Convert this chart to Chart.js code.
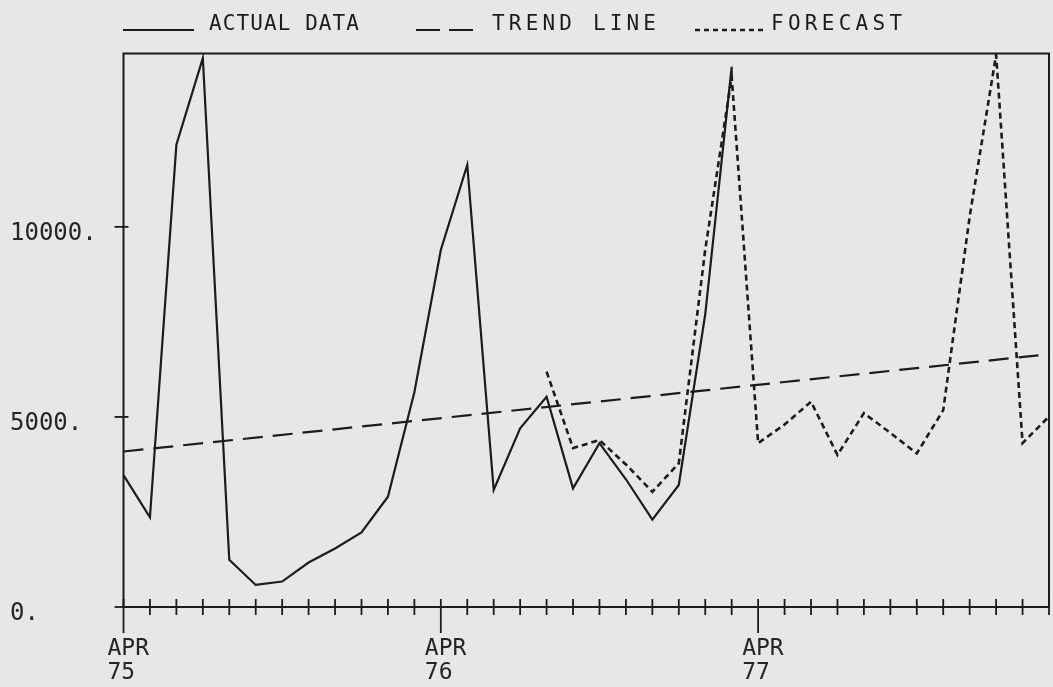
<!DOCTYPE html>
<html><head><meta charset="utf-8">
<script src="https://cdn.jsdelivr.net/npm/chart.js@4.4.1/dist/chart.umd.min.js"></script>
<style>
html,body{margin:0;padding:0;background:#e7e7e5;}
#wrap{position:relative;width:1053px;height:687px;overflow:hidden;}
canvas{display:block;}
</style></head><body>
<div id="wrap"><canvas id="c" width="1053" height="687"></canvas></div>
<script>
// ---- data ----
const monthLabels = [
  'APR 75','MAY 75','JUN 75','JUL 75','AUG 75','SEP 75','OCT 75','NOV 75','DEC 75','JAN 76','FEB 76','MAR 76',
  'APR 76','MAY 76','JUN 76','JUL 76','AUG 76','SEP 76','OCT 76','NOV 76','DEC 76','JAN 77','FEB 77','MAR 77',
  'APR 77','MAY 77','JUN 77','JUL 77','AUG 77','SEP 77','OCT 77','NOV 77','DEC 77','JAN 78','FEB 78','MAR 78'
];
const actualData = [3470, 2360, 12160, 14440, 1240, 580, 670, 1170, 1540, 1960, 2900, 5650,
                    9390, 11630, 3080, 4700, 5530, 3120, 4310, 3360, 2300, 3210, 7700, 14210];
const forecastStart = 'AUG 76';
const forecastValues = [6190, 4180, 4390, 3750, 3030, 3780, 9400, 13950, 4310, 4800,
                        5400, 4000, 5100, 4580, 4040, 5180, 10270, 14530, 4310, 5010];
const trendStartValue = 4090;
const trendEndValue = 6650;
const yTickValues = [0, 5000, 10000];
const yMax = 14560;
const legendItems = ['ACTUAL DATA', 'TREND LINE', 'FORECAST'];

// ---- build library structures ----
const fIdx = monthLabels.indexOf(forecastStart);
const forecastData = monthLabels.map((m, i) => (i >= fIdx ? forecastValues[i - fIdx] : null));
const trendData = [
  {x: monthLabels[0], y: trendStartValue},
  {x: monthLabels[monthLabels.length - 1], y: trendEndValue}
];

const INK = '#1c1c1c';
const FONT = "'DejaVu Sans Mono', monospace";

function fitText(ctx, text, x0, x1, y) {
  if ('letterSpacing' in ctx) {
    ctx.letterSpacing = '0px';
    const w = ctx.measureText(text).width;
    const sp = (x1 - x0 - w) / Math.max(text.length - 1, 1);
    ctx.letterSpacing = sp.toFixed(2) + 'px';
  }
  ctx.fillText(text, x0, y);
  if ('letterSpacing' in ctx) ctx.letterSpacing = '0px';
}

const paperPlugin = {
  id: 'paper',
  beforeDraw(chart) {
    const ctx = chart.ctx;
    ctx.save();
    ctx.fillStyle = '#e7e7e5';
    ctx.fillRect(0, 0, chart.width, chart.height);
    ctx.restore();
  },
  beforeDatasetsDraw(chart) {
    const {ctx, chartArea: a, scales: {x, y}} = chart;
    ctx.save();
    ctx.strokeStyle = INK;
    ctx.lineWidth = 2;
    ctx.strokeRect(a.left, a.top, a.right - a.left, a.bottom - a.top);
    ctx.lineWidth = 1.8;
    monthLabels.forEach((m, i) => {
      const px = x.getPixelForValue(i);
      const major = m.startsWith('APR');
      ctx.beginPath();
      ctx.moveTo(px, a.bottom - 8);
      ctx.lineTo(px, a.bottom + (major ? 26 : 8));
      ctx.stroke();
    });
    yTickValues.forEach(v => {
      const py = y.getPixelForValue(v);
      ctx.beginPath();
      ctx.moveTo(a.left - 9, py);
      ctx.lineTo(a.left + 5, py);
      ctx.stroke();
    });
    ctx.restore();
  },
  afterDraw(chart) {
    const ctx = chart.ctx;
    ctx.save();
    ctx.fillStyle = INK;
    ctx.strokeStyle = INK;
    ctx.font = '21px ' + FONT;
    ctx.textBaseline = 'alphabetic';
    const ly = 30;
    ctx.lineWidth = 2;
    ctx.setLineDash([]);
    ctx.beginPath(); ctx.moveTo(123, ly); ctx.lineTo(194, ly); ctx.stroke();
    fitText(ctx, legendItems[0], 209, 359, 30);
    ctx.setLineDash([24, 9]);
    ctx.beginPath(); ctx.moveTo(416, ly); ctx.lineTo(473, ly); ctx.stroke();
    fitText(ctx, legendItems[1], 492, 656, 30);
    ctx.lineWidth = 2.5;
    ctx.setLineDash([5, 4]);
    ctx.beginPath(); ctx.moveTo(695, ly); ctx.lineTo(766, ly); ctx.stroke();
    ctx.setLineDash([]);
    fitText(ctx, legendItems[2], 771, 902, 30);
    ctx.restore();
  }
};

new Chart(document.getElementById('c'), {
  type: 'line',
  data: {
    labels: monthLabels,
    datasets: [
      {label: legendItems[1], data: trendData, borderColor: INK, borderWidth: 2.2,
       borderDash: [20, 10], pointRadius: 0, tension: 0, fill: false},
      {label: legendItems[0], data: actualData, borderColor: INK, borderWidth: 2.2,
       pointRadius: 0, tension: 0, fill: false},
      {label: legendItems[2], data: forecastData, borderColor: INK, borderWidth: 2.6,
       borderDash: [6, 4], pointRadius: 0, tension: 0, fill: false}
    ]
  },
  options: {
    responsive: false,
    devicePixelRatio: 1,
    animation: false,
    layout: {padding: {left: 10, top: 53.5, right: 4, bottom: 0}},
    plugins: {legend: {display: false}, tooltip: {enabled: false}, title: {display: false}},
    scales: {
      x: {
        type: 'category',
        offset: false,
        grid: {display: false, drawTicks: true, tickLength: 30},
        border: {display: false},
        afterFit(s) { s.height = 80; },
        ticks: {
          autoSkip: false,
          maxRotation: 0,
          minRotation: 0,
          align: 'start',
          labelOffset: -16,
          padding: 0,
          color: '#262626',
          font: {family: FONT, size: 23, lineHeight: 1.03},
          callback(v, i) {
            const m = monthLabels[i];
            return m.startsWith('APR') ? m.split(' ') : '';
          }
        }
      },
      y: {
        type: 'linear',
        min: 0,
        max: yMax,
        grid: {display: false, drawTicks: false},
        border: {display: false},
        afterFit(s) { s.width = 113.5; },
        afterBuildTicks(s) { s.ticks = yTickValues.map(v => ({value: v})); },
        ticks: {
          crossAlign: 'far',
          labelOffset: 7,
          color: '#262626',
          font: {family: FONT, size: 24},
          callback(v) { return v + '.'; }
        }
      }
    }
  },
  plugins: [paperPlugin]
});
</script>
</body></html>
